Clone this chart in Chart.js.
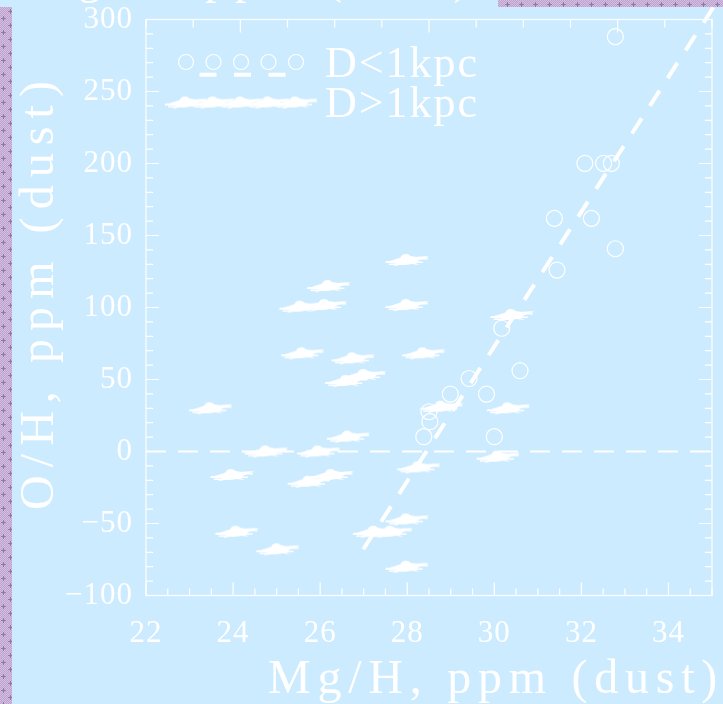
<!DOCTYPE html>
<html>
<head>
<meta charset="utf-8">
<script src="https://cdn.jsdelivr.net/npm/chart.js@4/dist/chart.umd.min.js"></script>
<style>
  html, body { margin: 0; padding: 0; background: #ccebff; overflow: hidden; }
  canvas { display: block; }
</style>
</head>
<body>
<canvas id="c" width="723" height="704"></canvas>
<script>
// Dust-phase Mg/H against O/H (ppm), split by distance
const nearMg = [28.38, 28.50, 28.52, 28.99, 29.42, 29.82, 30.00, 30.17, 30.59, 31.38, 31.44, 32.08, 32.23, 32.51, 32.69, 32.78, 32.78];
const nearO  = [10.3, 27.6, 20.7, 39.9, 50.7, 39.9, 10.3, 85.6, 56.1, 161.9, 126.0, 200.1, 161.9, 200.1, 200.1, 140.8, 288.1];

const farMg = [23.48, 23.97, 24.08, 24.76, 25.02, 25.55, 26.11, 26.19, 25.59, 26.75, 26.60, 27.01, 26.64, 25.96,
               25.74, 26.26, 27.99, 27.99, 28.37, 28.78, 28.26, 27.99, 27.24, 27.62, 27.99, 30.40, 30.32, 30.08];
const farO  = [30.0, -16.3, -55.7, 0.0, -67.9, 100.6, 101.7, 114.9, 68.2, 64.7, 49.0, 53.1, 10.3, 0.0,
               -21.0, -16.3, 133.0, 101.7, 68.2, 31.1, -11.0, -47.1, -55.7, -55.7, -80.0, 94.8, 30.0, -3.6];

// linear relation for the nearby sample
const fitMg = [26.99, 35.1];
const fitO  = [-67.9, 311.6];

const zeroMg = [22, 35];
const zeroO  = [0, 0];

const xTickValues = [22, 24, 26, 28, 30, 32, 34];
const yTickValues = [-100, -50, 0, 50, 100, 150, 200, 250, 300];

const legendLabels = ['D<1kpc', 'D>1kpc'];
const xTitle = 'Mg/H, ppm (dust)';
const yTitle = 'O/H, ppm (dust)';
const topTitle = 'Mg/H, ppm (dust)';

const WHITE = '#ffffff';
const BG = '#ccebff';
const SERIF = '"Liberation Serif", "Times New Roman", serif';

const pts = (xs, ys) => xs.map((x, i) => ({ x, y: ys[i] }));

// flattened, streaky star used for the distant sample
function makeStar() {
  const c = document.createElement('canvas');
  c.width = 46; c.height = 16;
  const g = c.getContext('2d');
  g.fillStyle = WHITE;
  const poly = (p) => { g.beginPath(); g.moveTo(p[0], p[1]); for (let i = 2; i < p.length; i += 2) g.lineTo(p[i], p[i + 1]); g.closePath(); g.fill(); };
  g.beginPath(); g.ellipse(23, 8.5, 12, 4.3, -0.08, 0, Math.PI * 2); g.fill();
  g.beginPath(); g.ellipse(22, 5.6, 5, 3.6, 0, 0, Math.PI * 2); g.fill();
  poly([0.5, 10.5, 14, 6.5, 16, 11.5]);
  poly([45.5, 4, 30, 5, 31, 10]);
  poly([9, 14.5, 17, 9, 22, 11.5]);
  poly([36, 13, 27, 9, 23.5, 11.5]);
  // streaks along the arms
  g.fillRect(2, 9, 20, 2);
  g.fillRect(24, 5.5, 20, 2);
  g.fillRect(5, 11.5, 15, 1.5);
  g.fillRect(26, 9.5, 13, 1.5);
  g.fillRect(12, 7, 10, 1);
  return c;
}
const starImg = makeStar();

function spacedText(ctx, text, x, y, spacing) {
  ctx.letterSpacing = spacing + 'px';
  ctx.fillText(text, x, y);
  ctx.letterSpacing = '0px';
}

function fitSpacing(ctx, text, width) {
  ctx.letterSpacing = '0px';
  const w = ctx.measureText(text).width;
  return Math.max(0, (width - w) / text.length);
}

function drawChecker(ctx, x, y, w, h) {
  const tile = document.createElement('canvas');
  tile.width = 14; tile.height = 14;
  const t = tile.getContext('2d');
  t.fillStyle = '#bfa3cf';
  t.fillRect(0, 0, 14, 14);
  t.fillStyle = '#d3bde0';
  for (let i = 0; i < 14; i++) for (let j = 0; j < 14; j++) if ((i + j) % 2 === 0) t.fillRect(i, j, 1, 1);
  t.fillStyle = '#8f7aa6';
  t.fillRect(3, 2, 1, 5); t.fillRect(1, 4, 5, 1);
  t.fillRect(10, 9, 1, 5); t.fillRect(8, 11, 5, 1);
  const pat = ctx.createPattern(tile, 'repeat');
  ctx.save();
  ctx.fillStyle = pat;
  ctx.fillRect(x, y, w, h);
  ctx.restore();
}

const backdrop = {
  id: 'backdrop',
  beforeDraw(chart) {
    const ctx = chart.ctx;
    ctx.save();
    ctx.fillStyle = BG;
    ctx.fillRect(0, 0, chart.width, chart.height);
    drawChecker(ctx, 0, 7, 12, chart.height - 7);
    drawChecker(ctx, 498, 0, chart.width - 498, 7);
    // heading running off the top edge
    ctx.fillStyle = WHITE;
    ctx.font = '46px ' + SERIF;
    ctx.textBaseline = 'alphabetic';
    ctx.textAlign = 'left';
    spacedText(ctx, topTitle, 30, -7, fitSpacing(ctx, topTitle, 446));
    ctx.restore();
    ctx.letterSpacing = '1px';
  }
};

const frame = {
  id: 'frame',
  beforeDatasetsDraw(chart) {
    const { ctx, chartArea: a, scales } = chart;
    const sx = scales.x, sy = scales.y, st = scales.x2;
    ctx.save();
    ctx.strokeStyle = WHITE;
    ctx.lineWidth = 1.2;
    ctx.strokeRect(a.left, a.top, a.right - a.left, a.bottom - a.top);
    ctx.beginPath();
    for (let v = 22; v <= 35; v += 0.5) {
      const px = sx.getPixelForValue(v);
      const len = (v % 2 === 0) ? 13 : 7;
      ctx.moveTo(px, a.bottom); ctx.lineTo(px, a.bottom - len);
    }
    for (let i = 0; i <= 12; i++) {
      const px = st.getPixelForValue(i);
      const len = (i % 4 === 2) ? 13 : 8;
      ctx.moveTo(px, a.top); ctx.lineTo(px, a.top + len);
    }
    for (let v = -100; v <= 300; v += 10) {
      const py = sy.getPixelForValue(v);
      const len = (v % 50 === 0) ? 13 : 7;
      ctx.moveTo(a.left, py); ctx.lineTo(a.left + len, py);
      ctx.moveTo(a.right, py); ctx.lineTo(a.right - len, py);
    }
    ctx.stroke();
    ctx.restore();
  },
  afterDatasetsDraw(chart) {
    const ctx = chart.ctx;
    ctx.save();
    ctx.fillStyle = WHITE;
    ctx.strokeStyle = WHITE;
    // key
    const kx = [186, 213.5, 241, 268.5, 296];
    ctx.lineWidth = 1.2;
    kx.forEach(x => { ctx.beginPath(); ctx.arc(x, 62, 7.5, 0, Math.PI * 2); ctx.stroke(); });
    ctx.lineWidth = 4;
    ctx.setLineDash([17, 17.5]);
    ctx.lineDashOffset = -12.5;
    ctx.beginPath(); ctx.moveTo(187, 74.7); ctx.lineTo(296, 74.7); ctx.stroke();
    ctx.setLineDash([]);
    kx.forEach(x => ctx.drawImage(starImg, x - 23, 102.5 - 8));
    ctx.font = '44px ' + SERIF;
    ctx.textAlign = 'left';
    ctx.textBaseline = 'alphabetic';
    spacedText(ctx, legendLabels[0], 325, 77, fitSpacing(ctx, legendLabels[0], 154));
    spacedText(ctx, legendLabels[1], 325, 117, fitSpacing(ctx, legendLabels[1], 154));
    // axis titles
    ctx.font = '48px ' + SERIF;
    ctx.textAlign = 'left';
    spacedText(ctx, xTitle, 268, 693, fitSpacing(ctx, xTitle, 456));
    ctx.translate(53, 510);
    ctx.rotate(-Math.PI / 2);
    spacedText(ctx, yTitle, 0, 0, fitSpacing(ctx, yTitle, 437));
    ctx.restore();
  }
};

new Chart(document.getElementById('c'), {
  type: 'scatter',
  data: {
    datasets: [
      {
        label: 'zero',
        data: pts(zeroMg, zeroO),
        showLine: true,
        borderColor: WHITE,
        borderWidth: 2,
        borderDash: [20, 12],
        pointRadius: 0,
        order: 4
      },
      {
        label: 'fit',
        data: pts(fitMg, fitO),
        showLine: true,
        borderColor: WHITE,
        borderWidth: 4,
        borderDash: [18, 15],
        borderCapStyle: 'butt',
        pointRadius: 0,
        clip: false,
        order: 3
      },
      {
        label: legendLabels[1],
        data: pts(farMg, farO),
        pointStyle: starImg,
        pointRadius: 10,
        order: 2
      },
      {
        label: legendLabels[0],
        data: pts(nearMg, nearO),
        pointStyle: 'circle',
        pointRadius: 8,
        borderColor: WHITE,
        borderWidth: 1.2,
        backgroundColor: 'rgba(0,0,0,0)',
        order: 1
      }
    ]
  },
  options: {
    responsive: false,
    devicePixelRatio: 1,
    animation: false,
    layout: { padding: { top: 19.5, right: 0.7, left: 0, bottom: 0 } },
    plugins: { legend: { display: false }, tooltip: { enabled: false } },
    scales: {
      x: {
        type: 'linear', min: 22, max: 35, position: 'bottom',
        afterBuildTicks: s => { s.ticks = xTickValues.map(v => ({ value: v })); },
        afterFit: s => { s.height = 108.5; s.paddingLeft = 0; s.paddingRight = 0; },
        grid: { display: false }, border: { display: false },
        ticks: { color: WHITE, font: { family: SERIF, size: 31 }, padding: 12, maxRotation: 0 }
      },
      x2: {
        type: 'linear', min: 0, max: 12, position: 'top',
        afterFit: s => { s.height = 0; s.paddingLeft = 0; s.paddingRight = 0; },
        grid: { display: false }, border: { display: false },
        ticks: { display: false }
      },
      y: {
        type: 'linear', min: -100, max: 300,
        afterBuildTicks: s => { s.ticks = yTickValues.map(v => ({ value: v })); },
        afterFit: s => { s.width = 146; s.paddingTop = 0; s.paddingBottom = 0; },
        grid: { display: false }, border: { display: false },
        ticks: { color: WHITE, font: { family: SERIF, size: 31 }, padding: 5,
                 callback: v => (v < 0 ? '\u2212' + Math.abs(v) : String(v)) }
      }
    }
  },
  plugins: [backdrop, frame]
});
</script>
</body>
</html>
